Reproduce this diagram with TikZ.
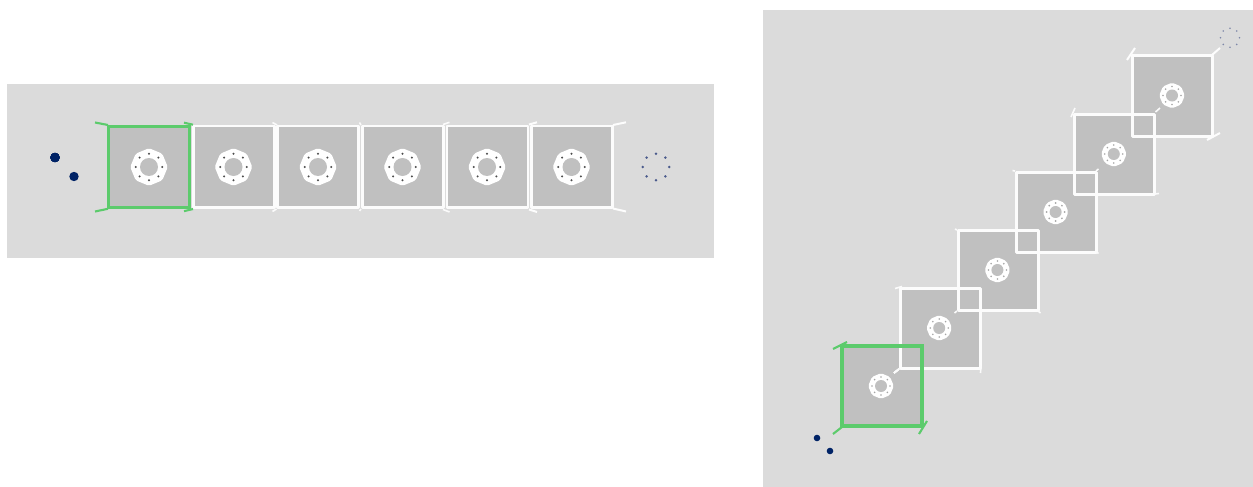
\documentclass[tikz,border=0pt]{standalone}
\definecolor{panel}{HTML}{DBDBDB}
\definecolor{cell}{HTML}{C0C0C0}
\definecolor{pass}{HTML}{5CCB6C}
\definecolor{navy}{HTML}{002366}
\definecolor{ringdot}{HTML}{4A5A8C}
\tikzset{
  panelbox/.style={fill=panel,draw=none},
  cellfill/.style={fill=cell,draw=none},
  cellline/.style={draw=white!96!cell,line width=2.6pt,line join=round},
  passline/.style={draw=pass,line width=2.8pt},
  cellwide/.style={cellline,line width=3pt},
  passwide/.style={passline,line width=3.2pt},
  tick/.style={draw=white!94!panel,line width=2pt},
  passtick/.style={draw=pass,line width=2.1pt},
  smalltick/.style={draw=white!90!panel,line width=1.6pt},
  blob/.style={fill=white,draw=none,rounded corners=2pt},
  hole/.style={fill=cell,draw=none},
  source/.style={fill=navy,draw=none}
}
\newcommand{\ringdots}[5]{% cx cy r dotr color
  \foreach \a in {0,45,...,315}
    \fill[#5] ({#1+#3*cos(\a)},{#2+#3*sin(\a)}) circle (#4);}
\newcommand{\blobring}[7]{% cx cy outer hole dotradius dotcolour dotsize
  \fill[blob] ({#1+#3},#2)
    -- ({#1+#3*cos(45)},{#2+#3*sin(45)})
    -- (#1,{#2+#3})
    -- ({#1-#3*cos(45)},{#2+#3*sin(45)})
    -- ({#1-#3},#2)
    -- ({#1-#3*cos(45)},{#2-#3*sin(45)})
    -- (#1,{#2-#3})
    -- ({#1+#3*cos(45)},{#2-#3*sin(45)}) -- cycle;
  \fill[hole] (#1,#2) circle (#4);
  \foreach \a in {0,45,...,315}
    \fill[#6] ({#1+#5*cos(\a)},{#2+#5*sin(\a)}) circle (#7);}
\begin{document}
\begin{tikzpicture}[x=1pt,y=-1pt]
\useasboundingbox (0,0) rectangle (1253,487);
% ---- left panel
\fill[panelbox] (7,84) rectangle (714,258);
\foreach \x in {108.3,193.2,277.7,362.2,446.9,531.5}
  \fill[cellfill] (\x,126) rectangle (\x+81,207.6);
\foreach \x in {193.2,277.7,362.2,446.9,531.5}
  \draw[cellline] (\x,126) rectangle (\x+81,207.6);
\draw[passline] (108.6,126.3) rectangle (189.2,207.3);
\foreach \c in {149,233.5,318,402.5,487,571.5}
  \blobring{\c}{167}{18.8}{9}{13.3}{black!70}{1.1}
\fill[source] (55,157.5) circle (4.7);
\fill[source] (74,176.5) circle (4.7);
\ringdots{656}{167}{13.3}{1.4}{ringdot}
\draw[passtick] (95,122.5) -- (108,125);
\draw[passtick] (95,211.5) -- (108,208.8);
\draw[passtick] (184,122.7) -- (193,124.7);
\draw[passtick] (184,211.2) -- (193,209);
% small ticks at the joints
\draw[smalltick] (272.5,122.5) -- (277,125);
\draw[smalltick] (272.5,211.5) -- (276.5,209);
\draw[smalltick] (359.5,122.5) -- (361,125);
\draw[smalltick] (359.5,211) -- (361,209);
\draw[smalltick] (443,124.5) -- (449.5,122.3);
\draw[smalltick] (443,209.5) -- (449.5,212);
\draw[tick] (529,124.5) -- (537,122.3);
\draw[tick] (529,209.5) -- (537,212);
\draw[tick] (613,125) -- (626,122.3);
\draw[tick] (613,208.5) -- (626,211.5);
% ---- right panel
\fill[panelbox] (763,10) rectangle (1253,487);
\foreach \x/\y in {842/346,900/288,958/230,1016/172,1074/114,1132/56}
  \fill[cellfill] (\x,\y) rectangle (\x+80,\y+80);
\foreach \x/\y in {900/288,958/230,1016/172,1074/114,1132/56}
  \draw[cellwide] (\x,\y) rectangle (\x+80,\y+80);
\draw[passwide] (842,346) rectangle (922,426);
\foreach \x/\y in {881/386,939.2/328,997.4/270,1055.6/212,1113.8/154,1172/95.5}
  \blobring{\x}{\y}{12.8}{6}{9}{black!35}{.9}
% dashes toward the next cell
\draw[smalltick] (894,373) -- (899,369);
\draw[smalltick] (1155.5,112) -- (1160,108);
\draw[smalltick] (1096,171) -- (1098.5,169);
\draw[smalltick] (1155,194) -- (1159,193.5);
\draw[smalltick] (1071,117) -- (1075,108);
\draw[smalltick] (1012.5,170.5) -- (1015,171);
\draw[smalltick] (1096.5,252) -- (1098.5,253.5);
\draw[smalltick] (955,229) -- (957,230);
\draw[smalltick] (954.5,313) -- (957,311);
\draw[smalltick] (1038,311) -- (1040.5,313);
\draw[smalltick] (895,288.5) -- (902,286.5);
\draw[smalltick] (981,366) -- (980.5,373);
\fill[source] (817,438) circle (3.3);
\fill[source] (830,451) circle (3.3);
\ringdots{1230}{37.7}{9.5}{.9}{ringdot!65!panel}
\draw[passtick] (833,349) -- (847,342);
\draw[passtick] (833,434) -- (842,427);
\draw[passtick] (919,434) -- (927,421);
\draw[tick] (1127,60) -- (1135,48);
\draw[tick] (1212,55) -- (1220,48);
\draw[tick] (1207,140) -- (1220,133);
\end{tikzpicture}
\end{document}
